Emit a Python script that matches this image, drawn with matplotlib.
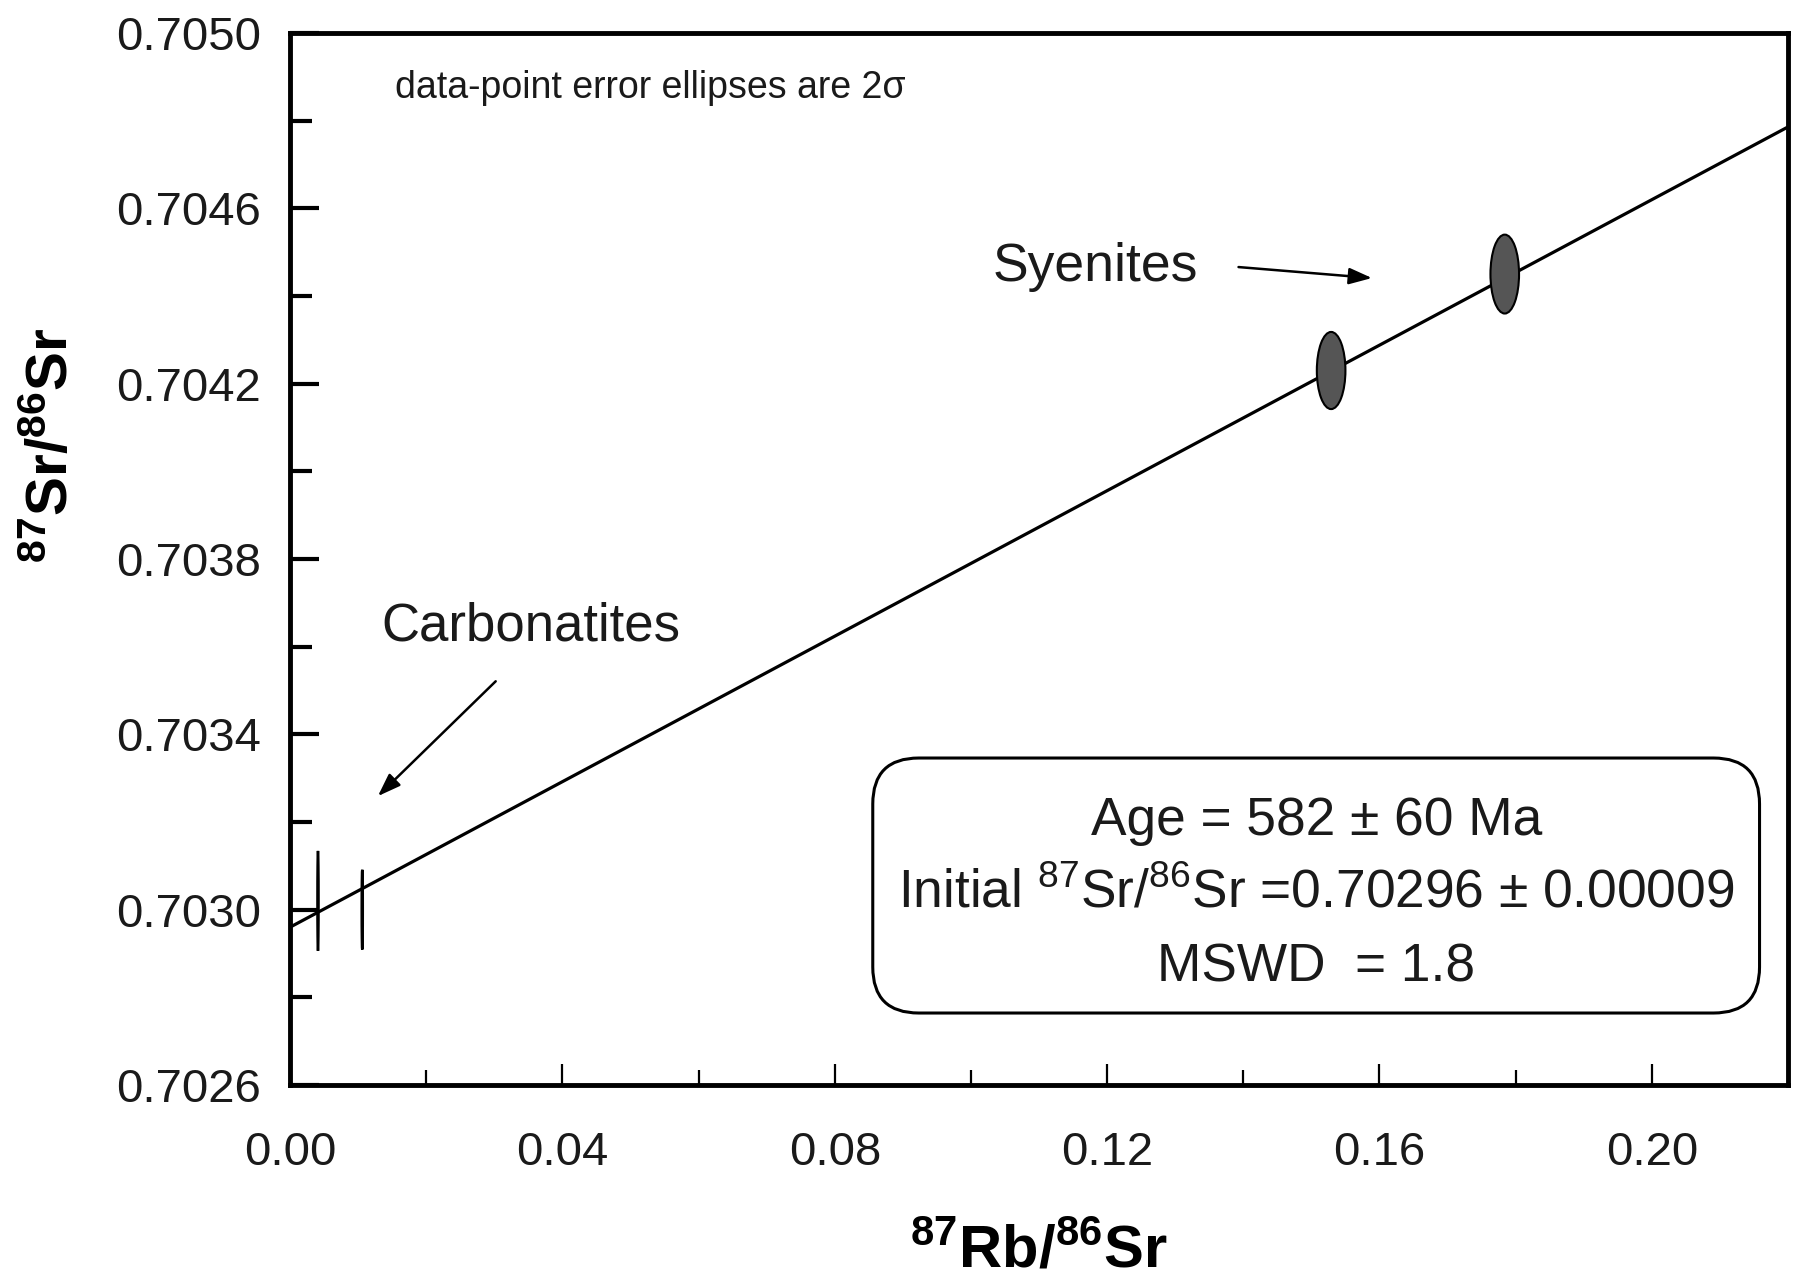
import numpy as np
import matplotlib
matplotlib.use('Agg')
import matplotlib.pyplot as plt
from matplotlib.patches import Ellipse, FancyBboxPatch

plt.rcParams['font.family'] = ['Liberation Sans', 'DejaVu Sans']
plt.rcParams['mathtext.fontset'] = 'custom'
plt.rcParams['mathtext.rm'] = 'Liberation Sans'
plt.rcParams['mathtext.bf'] = 'Liberation Sans:bold'
plt.rcParams['mathtext.it'] = 'Liberation Sans:italic'
plt.rcParams['mathtext.default'] = 'regular'

# Rb-Sr isochron result
AGE_MA = 582
AGE_ERR = 60
SR_INITIAL = 0.70296
SR_INITIAL_ERR = 0.00009
MSWD = 1.8
LAMBDA_RB = 1.42e-11  # 87Rb decay constant (1/yr)

# syenites: 87Rb/86Sr, 87Sr/86Sr, 2-sigma half widths
syen_x = [0.1529, 0.1784]
syen_y = [0.70423, 0.70445]
syen_xerr = [0.0021, 0.0021]
syen_yerr = [0.000088, 0.000090]

# carbonatites
carb_x = [0.0041, 0.0106]
carb_y = [0.70302, 0.70300]
carb_xerr = [0.00008, 0.00008]
carb_yerr = [0.000114, 0.000091]

x_ticks = [0.00, 0.04, 0.08, 0.12, 0.16, 0.20]
y_ticks = [0.7026, 0.7030, 0.7034, 0.7038, 0.7042, 0.7046, 0.7050]

fig = plt.figure(figsize=(17.95, 12.79), dpi=100, facecolor='white')
ax = fig.add_axes([0.1616, 0.1517, 0.8345, 0.8225])

# isochron line
slope = np.exp(LAMBDA_RB * AGE_MA * 1e6) - 1
xs = np.array([0.0, 0.22])
ax.plot(xs, SR_INITIAL + slope * xs, color='black', lw=2.3, zorder=2)

# error ellipses
for x, y, ex, ey in zip(syen_x, syen_y, syen_xerr, syen_yerr):
    ax.add_patch(Ellipse((x, y), 2 * ex, 2 * ey, facecolor='#555555',
                         edgecolor='black', lw=1.5, zorder=3))
for x, y, ex, ey in zip(carb_x, carb_y, carb_xerr, carb_yerr):
    ax.add_patch(Ellipse((x, y), 2 * ex, 2 * ey, facecolor='none',
                         edgecolor='black', lw=1.8, zorder=3))

ax.set_xlim(0, 0.22)
ax.set_ylim(0.7026, 0.7050)
ax.set_xticks(x_ticks)
ax.set_xticks(np.arange(0.02, 0.22, 0.04), minor=True)
ax.set_yticks(y_ticks)
ax.set_yticks(np.arange(0.7028, 0.7050, 0.0004), minor=True)
ax.set_xticklabels([f'{v:.2f}' for v in x_ticks])
ax.set_yticklabels([f'{v:.4f}' for v in y_ticks])

for s in ax.spines.values():
    s.set_linewidth(3.5)
ax.tick_params(axis='y', which='major', direction='in', length=21, width=3,
               pad=21, labelsize=34, labelcolor='#1a1a1a')
ax.tick_params(axis='y', which='minor', direction='in', length=16, width=3)
ax.tick_params(axis='x', which='major', direction='in', length=15, width=1.6,
               pad=33, labelsize=34, labelcolor='#1a1a1a')
ax.tick_params(axis='x', which='minor', direction='in', length=11, width=1.6)

ax.set_xlabel(r'$\mathbf{{}^{87}Rb/{}^{86}Sr}$', fontsize=43)
ax.set_ylabel(r'$\mathbf{{}^{87}Sr/{}^{86}Sr}$', fontsize=42)
ax.xaxis.set_label_coords(0.5, -0.132)
ax.yaxis.set_label_coords(-0.140, 0.608)

ax.text(0.070, 0.948, 'data-point error ellipses are 2σ', transform=ax.transAxes,
        fontsize=27, color='#1a1a1a', va='center', ha='left')

# sample group labels with arrows
ax.text(0.1032, 0.704466, 'Syenites', fontsize=38.5, color='#1a1a1a',
        va='center', ha='left')
ax.annotate('', xy=(0.1589, 0.704441), xytext=(0.1393, 0.704466),
            arrowprops=dict(arrowstyle='-|>,head_length=1.4,head_width=0.5',
                            color='black', lw=1.8, shrinkA=0, shrinkB=0))
ax.text(0.01334, 0.703645, 'Carbonatites', fontsize=38, color='#1a1a1a',
        va='center', ha='left')
ax.annotate('', xy=(0.0129, 0.703259), xytext=(0.0302, 0.703521),
            arrowprops=dict(arrowstyle='-|>,head_length=1.4,head_width=0.5',
                            color='black', lw=1.8, shrinkA=0, shrinkB=0))

# result box
box = FancyBboxPatch((0.389, 0.0684), 0.592, 0.2424, transform=ax.transAxes,
                     boxstyle='round,pad=0,rounding_size=0.0307',
                     mutation_aspect=1498 / 1052, facecolor='white',
                     edgecolor='black', lw=2.2, zorder=4)
ax.add_patch(box)
lines = [f'Age = {AGE_MA} ± {AGE_ERR} Ma',
         f'Initial $^{{87}}$Sr/$^{{86}}$Sr ={SR_INITIAL:.5f} ± {SR_INITIAL_ERR:.5f}',
         f'MSWD  = {MSWD}']
for txt, yy in zip(lines, [0.2507, 0.1823, 0.1119]):
    ax.text(0.685, yy, txt, transform=ax.transAxes, fontsize=38.3,
            color='#1a1a1a', ha='center', va='center', zorder=5)

plt.savefig('out.png', dpi=100, facecolor='white')
